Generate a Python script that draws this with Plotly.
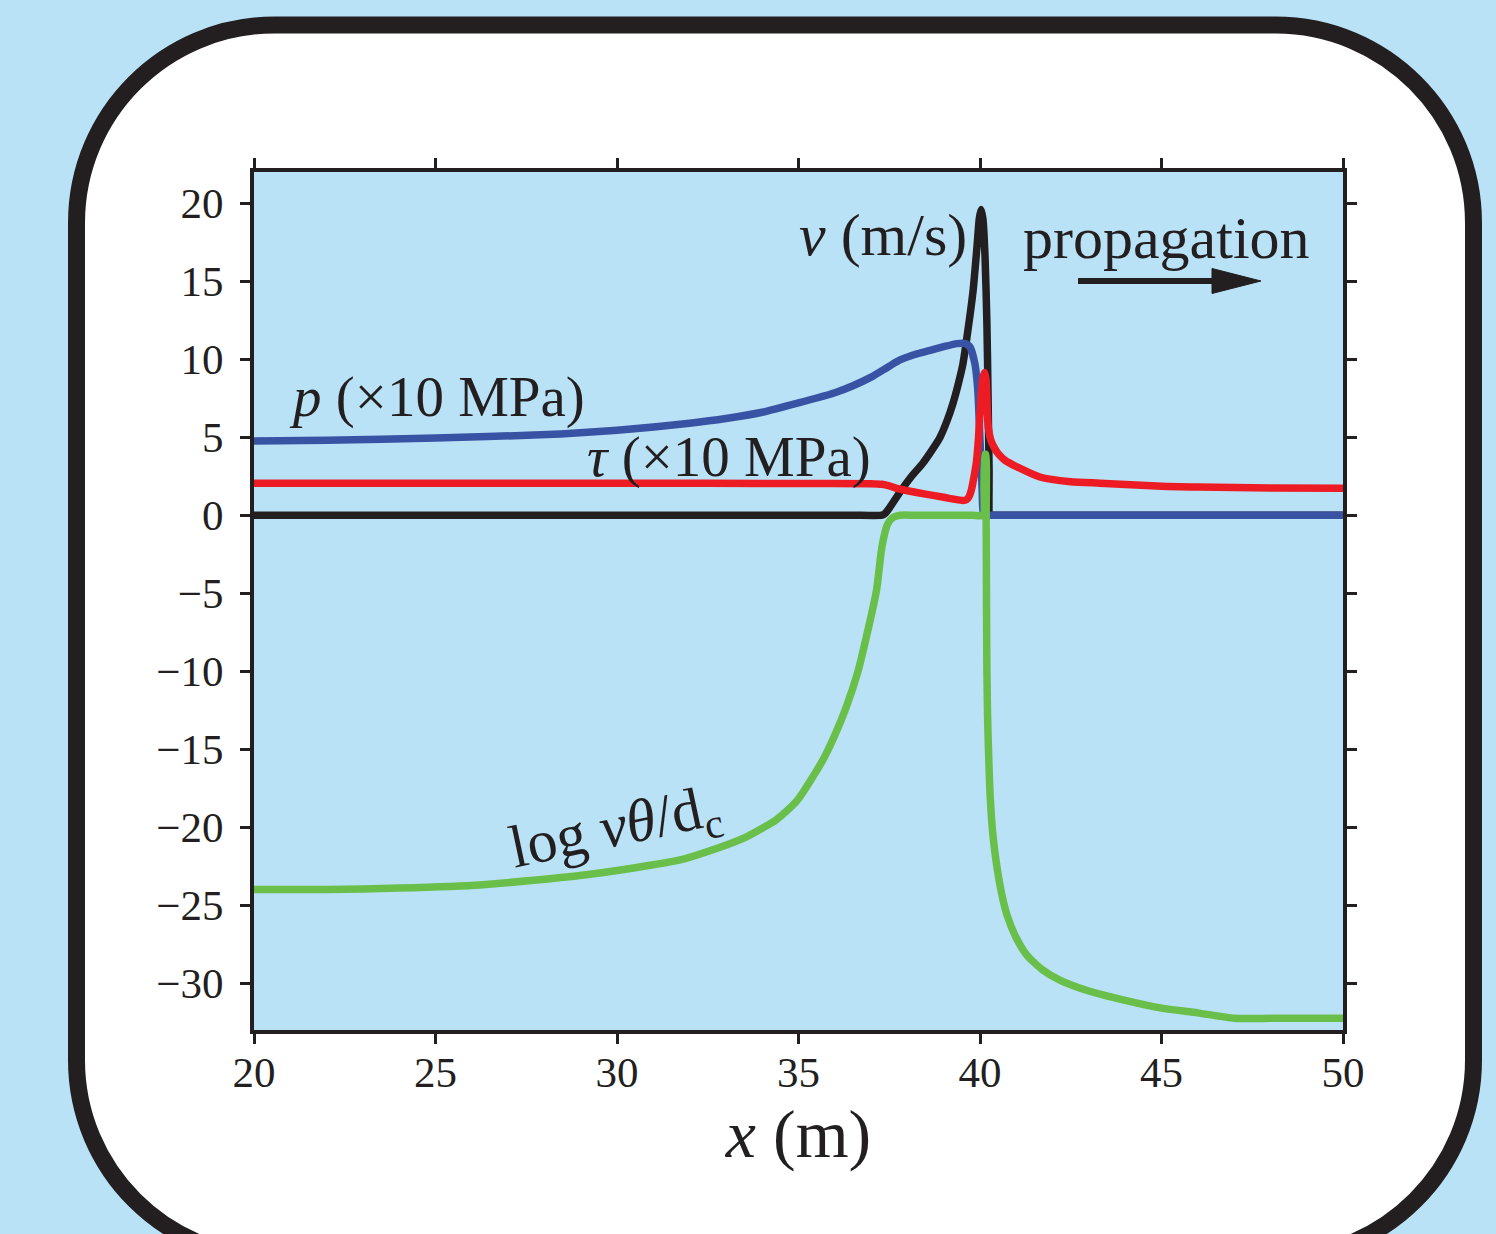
import plotly.graph_objects as go

# ---------------- data ----------------
x_v = [20, 24, 28, 32, 35, 36.5, 37.3, 37.38, 37.5, 37.8, 38.1, 38.43, 38.7, 38.9, 39.1, 39.26, 39.4,
       39.53, 39.67, 39.81, 39.92, 39.98, 40.03, 40.08, 40.14, 40.19, 40.22, 40.25, 40.28, 40.35,
       41, 43, 46, 50]
v_vals = [0, 0, 0, 0, 0, 0, 0, 0.1, 0.45, 1.5, 2.45, 3.35, 4.25, 5.0, 6.1, 7.2, 8.4,
          9.7, 11.9, 14.4, 17.3, 19.0, 19.6, 19.0, 16.5, 12.3, 8.0, 3.0, 0, 0,
          0, 0, 0, 0]

x_p = [20, 22, 25, 27.9, 30, 32, 33, 34, 35, 36, 36.5, 37, 37.5, 37.8, 38.2, 38.6, 39.0,
       39.36, 39.6, 39.72, 39.86, 39.94, 40.0, 40.06, 40.1, 40.2, 41, 43, 46, 50]
p_vals = [4.75, 4.8, 4.95, 5.15, 5.45, 5.9, 6.2, 6.6, 7.2, 7.85, 8.3, 8.85, 9.55, 9.95, 10.3, 10.55, 10.8,
          11.0, 11.0, 10.8, 9.7, 8.0, 4.8, 1.6, 0, 0, 0, 0, 0, 0]

x_tau = [20, 25, 30, 35, 37.0, 37.3, 37.5, 37.7, 38.0, 38.5, 39.0, 39.3, 39.53, 39.63, 39.7,
         39.76, 39.83, 39.9, 39.96, 40.02, 40.08, 40.13, 40.17, 40.2, 40.23, 40.3, 40.4, 40.5, 40.7,
         41.02, 41.65, 42.5, 43.3, 45, 46, 48, 50]
tau_vals = [2.05, 2.05, 2.05, 2.03, 2.02, 1.98, 1.88, 1.72, 1.57, 1.35, 1.15, 1.02, 0.95, 1.0, 1.2,
            1.6, 2.4, 3.4, 5.0, 7.3, 8.8, 9.15, 8.6, 6.8, 5.6, 4.8, 4.3, 3.95, 3.5,
            3.1, 2.45, 2.15, 2.05, 1.85, 1.8, 1.75, 1.72]

x_log = [20, 22, 24, 26.23, 28.98, 30.5, 31.74, 32.7, 33.58, 34.4, 34.96, 35.67, 36.0, 36.3,
         36.64, 36.9, 37.15, 37.3, 37.45, 37.6, 37.8, 38.2, 38.8, 39.4, 39.8, 40.08, 40.11, 40.14,
         40.16, 40.17, 40.18, 40.19, 40.21, 40.24, 40.28, 40.36, 40.47, 40.6, 40.74, 41.0, 41.29,
         41.7, 42.2, 43, 44, 45, 46, 47, 48, 49, 50]
log_vals = [-24.0, -24.0, -23.9, -23.7, -23.1, -22.6, -22.1, -21.4, -20.6, -19.5, -18.3, -15.7, -14.1,
            -12.4, -10.0, -7.5, -4.8, -2.0, -0.6, -0.15, 0, 0, 0, 0, 0, 0, 2.0, 3.9,
            3.9, 0, -6, -10, -13, -15.5, -18.0, -20.6, -22.6, -24.3, -25.6, -27.1, -28.2,
            -29.1, -29.8, -30.5, -31.1, -31.6, -31.9, -32.25, -32.25, -32.25, -32.25]

x_ticks = [20, 25, 30, 35, 40, 45, 50]
y_ticks = [-30, -25, -20, -15, -10, -5, 0, 5, 10, 15, 20]

# ---------------- style ----------------
BG = "#bae2f6"
INK = "#231f20"
BLUE = "#3953a4"
RED = "#ed1c24"
GREEN = "#6abf4b"
FONT = "Liberation Serif"

W, H = 1496, 1234
ML, MR, MT, MB = 254, 153, 172, 204
PW, PH = W - ML - MR, H - MT - MB

LW = 7.5
fig = go.Figure()
fig.add_trace(go.Scatter(x=x_v, y=v_vals, mode="lines",
                         line=dict(color=INK, width=LW, shape="spline", smoothing=0.6)))
fig.add_trace(go.Scatter(x=x_p, y=p_vals, mode="lines",
                         line=dict(color=BLUE, width=LW, shape="spline", smoothing=0.6)))
fig.add_trace(go.Scatter(x=x_tau, y=tau_vals, mode="lines",
                         line=dict(color=RED, width=LW, shape="spline", smoothing=0.6)))
fig.add_trace(go.Scatter(x=x_log, y=log_vals, mode="lines",
                         line=dict(color=GREEN, width=LW, shape="spline", smoothing=0.6)))


def pp(px, py):
    return (px - ML) / PW, (H - MB - py) / PH


def P(px, py):
    a, b = pp(px, py)
    return f"{a:.5f},{b:.5f}"


def frame_path(L, T, R, B, r):
    k = 0.5523 * r
    d = f"M {P(L + r, T)} L {P(R - r, T)} "
    d += f"C {P(R - r + k, T)} {P(R, T + r - k)} {P(R, T + r)} "
    d += f"L {P(R, B - r)} "
    d += f"C {P(R, B - r + k)} {P(R - r + k, B)} {P(R - r, B)} "
    d += f"L {P(L + r, B)} "
    d += f"C {P(L + r - k, B)} {P(L, B - r + k)} {P(L, B - r)} "
    d += f"L {P(L, T + r)} "
    d += f"C {P(L, T + r - k)} {P(L + r - k, T)} {P(L + r, T)} Z"
    return d


shapes = [
    dict(type="path", xref="paper", yref="paper", path=frame_path(76.5, 25, 1473.5, 1258, 198),
         fillcolor="white", line=dict(color=INK, width=17), layer="below"),
    dict(type="rect", xref="paper", yref="paper", x0=0, x1=1, y0=0, y1=1,
         fillcolor=BG, line=dict(width=0), layer="below"),
    # propagation arrow: shaft + elongated head
    dict(type="line", xref="paper", yref="paper",
         x0=pp(1078, 281)[0], y0=pp(1078, 281)[1], x1=pp(1218, 281)[0], y1=pp(1218, 281)[1],
         line=dict(color=INK, width=6), layer="above"),
    dict(type="path", xref="paper", yref="paper",
         path=f"M {P(1212, 268.5)} L {P(1261, 281)} L {P(1212, 293.5)} Z",
         fillcolor=INK, line=dict(color=INK, width=1), layer="above"),
]

big_font = dict(family=FONT, size=60, color=INK)
mid_font = dict(family=FONT, size=57, color=INK)
annotations = [
    dict(x=39.7, y=17.95, xref="x", yref="y", text="<i>v</i> (m/s)", showarrow=False,
         xanchor="right", yanchor="middle", font=big_font),
    dict(x=41.12, y=17.75, xref="x", yref="y", text="propagation", showarrow=False,
         xanchor="left", yanchor="middle", font=big_font),
    dict(x=20.9, y=7.6, xref="x", yref="y", text="<i>p</i> (×10 MPa)", showarrow=False,
         xanchor="left", yanchor="middle", font=mid_font),
    dict(x=37.05, y=3.75, xref="x", yref="y", text="<i>τ</i> (×10 MPa)", showarrow=False,
         xanchor="right", yanchor="middle", font=mid_font),
    dict(x=29.95, y=-20.2, xref="x", yref="y", text="log <i>vθ</i>/d<sub>c</sub>", showarrow=False,
         xanchor="center", yanchor="middle", textangle=-12, font=big_font),
]

axis_common = dict(showgrid=False, zeroline=False, showline=True, linewidth=4, linecolor=INK,
                   mirror="ticks", ticks="outside", ticklen=10, tickwidth=3, tickcolor=INK,
                   tickfont=dict(family=FONT, size=43, color=INK))

fig.update_layout(
    width=W, height=H,
    margin=dict(l=ML, r=MR, t=MT, b=MB, pad=0),
    paper_bgcolor=BG, plot_bgcolor="rgba(0,0,0,0)",
    showlegend=False,
    shapes=shapes,
    annotations=annotations,
    xaxis=dict(range=[20, 50], tickvals=x_ticks, ticklabelstandoff=-9, **axis_common,
               title=dict(text="<i>x</i> (m)", font=dict(family=FONT, size=68, color=INK), standoff=16)),
    yaxis=dict(range=[-33, 22], tickvals=y_ticks, ticklabelstandoff=8, **axis_common),
)

fig.write_html("out.html", config={"displayModeBar": False},
               post_script="document.body.style.margin='0';document.body.style.background='%s';" % BG)
